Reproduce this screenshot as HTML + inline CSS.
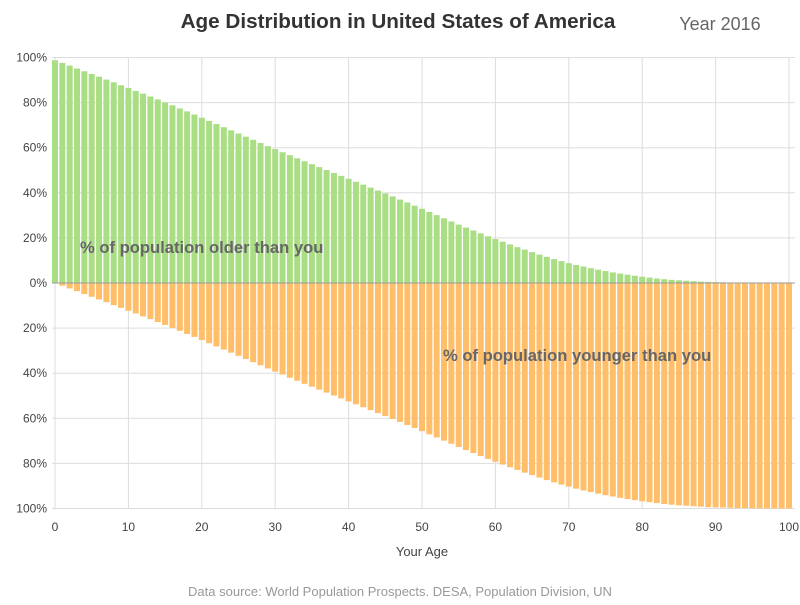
<!DOCTYPE html>
<html><head><meta charset="utf-8"><style>
body{margin:0;background:#fff;font-family:"Liberation Sans",sans-serif}
svg text{font-family:"Liberation Sans",sans-serif}
</style></head><body>
<svg id="chart" width="800" height="600" xmlns="http://www.w3.org/2000/svg">
<text x="398" y="28" text-anchor="middle" font-size="20.7" font-weight="bold" fill="#333">Age Distribution in United States of America</text>
<text x="720" y="30" text-anchor="middle" font-size="18" fill="#666">Year 2016</text>
<g id="grid"></g><g id="bars"></g><g id="axes"></g>
<text x="80" y="253" font-size="16.6" font-weight="bold" fill="#666">% of population older than you</text>
<text x="443" y="361" font-size="16.6" font-weight="bold" fill="#666">% of population younger than you</text>
<text x="422" y="556" text-anchor="middle" font-size="13" fill="#444">Your Age</text>
<text x="400" y="596" text-anchor="middle" font-size="13" fill="#999">Data source: World Population Prospects. DESA, Population Division, UN</text>
</svg>
<script>
const ages=[];for(let i=0;i<=100;i++)ages.push(i);
const older=[98.8,97.6,96.4,95.1,93.9,92.7,91.5,90.2,89.0,87.7,86.5,85.2,84.0,82.7,81.4,80.1,78.8,77.4,76.1,74.7,73.3,71.9,70.5,69.1,67.7,66.3,64.9,63.5,62.1,60.7,59.4,58.0,56.7,55.3,54.0,52.7,51.4,50.1,48.8,47.5,46.2,44.9,43.6,42.3,41.0,39.7,38.4,37.0,35.7,34.3,32.9,31.5,30.1,28.7,27.3,25.9,24.6,23.3,22.0,20.7,19.5,18.3,17.1,15.9,14.8,13.7,12.6,11.6,10.6,9.7,8.8,8.0,7.3,6.6,5.9,5.3,4.7,4.2,3.7,3.2,2.8,2.4,2.0,1.7,1.4,1.2,1.0,0.8,0.6,0.5,0.4,0.3,0.2,0.15,0.1,0.05,0.03,0.02,0.01,0.01,0];
const younger=[0,1.2,2.4,3.6,4.9,6.1,7.3,8.5,9.8,11.0,12.3,13.5,14.8,16.0,17.3,18.6,19.9,21.2,22.6,23.9,25.3,26.7,28.1,29.5,30.9,32.3,33.7,35.1,36.5,37.9,39.3,40.6,42.0,43.3,44.7,46.0,47.3,48.6,49.9,51.2,52.5,53.8,55.1,56.4,57.7,59.0,60.3,61.6,63.0,64.3,65.7,67.1,68.5,69.9,71.3,72.7,74.1,75.4,76.7,78.0,79.3,80.5,81.7,82.9,84.1,85.2,86.3,87.4,88.4,89.4,90.3,91.2,92.0,92.7,93.4,94.1,94.7,95.3,95.8,96.3,96.8,97.2,97.6,98.0,98.3,98.6,98.8,99.0,99.2,99.4,99.5,99.6,99.7,99.8,99.85,99.9,99.95,99.97,99.98,99.99,99.99];
const yTicks=[100,80,60,40,20,0,-20,-40,-60,-80,-100];
const yTickLabels=["100%","80%","60%","40%","20%","0%","20%","40%","60%","80%","100%"];
const xTicks=[0,10,20,30,40,50,60,70,80,90,100];
const NS="http://www.w3.org/2000/svg";
const L=52,R=795,T=57,B=508;
const xs=a=>55+a*7.34;
const ys=v=>283-v*2.255;
function mk(t,at,p){const e=document.createElementNS(NS,t);for(const k in at)e.setAttribute(k,at[k]);p.appendChild(e);return e;}
const grid=document.getElementById('grid'),bars=document.getElementById('bars'),axes=document.getElementById('axes');
yTicks.forEach((v,i)=>{
 const l=mk('line',{x1:L,x2:R,y1:ys(v),y2:ys(v),stroke:'#ddd','stroke-width':1},grid);
 
 
 const t=mk('text',{x:47,y:ys(v)+4,'text-anchor':'end','font-size':12,fill:'#444'},axes);
 t.textContent=yTickLabels[i];
 
 
});
xTicks.forEach(a=>{
 const l=mk('line',{x1:xs(a),x2:xs(a),y1:T,y2:B,stroke:'#ddd','stroke-width':1},grid);
 
 
 const t=mk('text',{x:xs(a),y:531,'text-anchor':'middle','font-size':12,fill:'#444'},axes);
 t.textContent=a;
 
 
});
ages.forEach((a,i)=>{
 const g=mk('rect',{x:xs(a)-3,y:ys(older[i]),width:6,height:ys(0)-ys(older[i]),fill:'#aade84'},bars);
 
 
 const o=mk('rect',{x:xs(a)-3,y:ys(0),width:6,height:ys(-younger[i])-ys(0),fill:'#ffbe69'},bars);
 
 
});
const z=mk('line',{x1:L,x2:R,y1:ys(0),y2:ys(0),stroke:'#999','stroke-width':1},axes);


</script>
</body></html>
